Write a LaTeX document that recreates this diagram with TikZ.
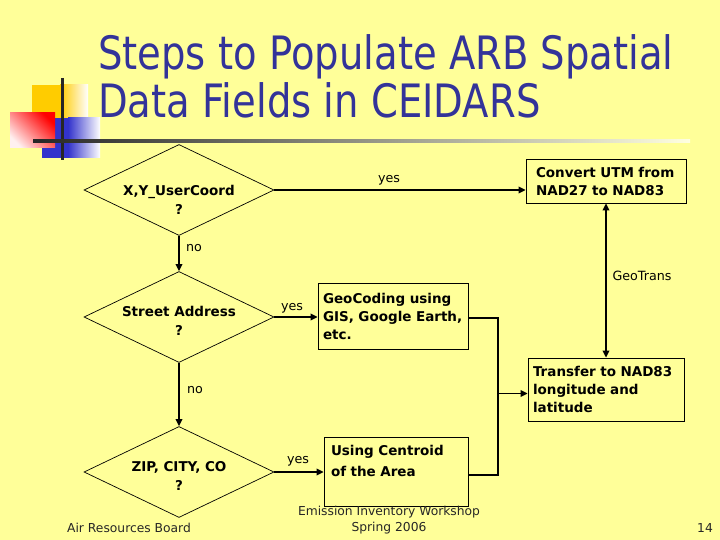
\documentclass[tikz,border=0pt]{standalone}
\usepackage{fontspec}
\setmainfont{DejaVu Sans}
\usetikzlibrary{shapes.geometric,arrows.meta}
\definecolor{bg}{HTML}{FFFF99}
\definecolor{titleblue}{HTML}{333399}
\definecolor{gold}{HTML}{FFCC00}
\definecolor{logoblue}{HTML}{3333CC}
\tikzset{
  dia/.style={diamond, draw, line width=0.7pt, minimum width=190pt, minimum height=91pt, inner sep=0pt, aspect=2.1},
  dtext/.style={font=\fontsize{13.5}{19}\selectfont\bfseries, align=center, inner sep=0pt},
  box/.style={draw, line width=0.7pt, rectangle, align=left, inner ysep=0pt, font=\fontsize{13.5}{18}\selectfont\bfseries},
  conn/.style={line width=1.8pt},
  arr/.style={conn, -{Triangle[length=7pt,width=6.5pt]}},
  lbl/.style={font=\fontsize{12.7}{15}\selectfont, inner sep=0pt},
  foot/.style={font=\fontsize{12.3}{15}\selectfont, text=black!85, inner sep=0pt},
  titletext/.style={font=\fontsize{46}{48}\selectfont, text=titleblue, inner sep=0pt, anchor=base west}
}
\begin{document}
\begin{tikzpicture}[x=1pt,y=-1pt]
\fill[bg] (0,0) rectangle (720,540);
\useasboundingbox (0,0) rectangle (720,540);

% logo
\fill[gold] (32,85) rectangle (60,125);
\shade[left color=gold, right color=white] (60,85) rectangle (88,125);
\fill[logoblue] (42,118) rectangle (68,158);
\shade[left color=logoblue, right color=white] (68,118) rectangle (100,158);
\shade[top color=red, bottom color=red!6!white, shading angle=-45] (10,113) rectangle (55,148);
\draw[line width=3pt, black!85] (62,78) -- (62,160);
\shade[left color=black!85, right color=bg!30!white] (33,139.5) rectangle (690,142.5);

% title
\node[titletext] (title1) at (98,70) {\scalebox{0.838}[1]{Steps to Populate ARB Spatial}};
\node[titletext] (title2) at (98,118) {\scalebox{0.838}[1]{Data Fields in CEIDARS}};

% diamonds
\node[dia] (d1) at (179,190) {};
\node[dtext] (t1) at (179,200) {X,Y\_UserCoord\\?};
\node[dia] (d2) at (179,317) {};
\node[dtext] (t2) at (179,321) {Street Address\\?};
\node[dia] (d3) at (179,472) {};
\node[dtext] (t3) at (179,476) {ZIP, CITY, CO\\?};

% boxes
\node[box, minimum width=160pt, minimum height=44pt, text width=140pt, inner xsep=10pt] (conv) at (606,181) {Convert UTM from\\NAD27 to NAD83};
\node[box, minimum width=150pt, minimum height=66pt, text width=140pt, inner xsep=5pt] (geo) at (393,316) {GeoCoding using\\GIS, Google Earth,\\etc.};
\node[box, minimum width=156pt, minimum height=63pt, text width=146pt, inner xsep=5pt] (trans) at (606,389.5) {Transfer to NAD83\\longitude and\\latitude};
\node[box, minimum width=144pt, minimum height=69pt, text width=130pt, inner xsep=7pt, font=\fontsize{13.5}{21}\selectfont\bfseries] (cent) at (396,471.5) {Using Centroid\\of the Area\\\mbox{}};

% connectors
\draw[arr] (d1.east) -- (d1.east -| conv.west);
\draw[arr] (d1.south) -- (d2.north);
\draw[arr] (d2.east) -- (d2.east -| geo.west);
\draw[arr] (d2.south) -- (d3.north);
\draw[arr] (d3.east) -- (d3.east -| cent.west);
\coordinate (jx) at (498,0);
\draw[conn] ([yshift=-2pt]geo.east) -- ([yshift=-2pt]geo.east -| jx) -- ([yshift=-3.5pt]cent.east -| jx) -- ([yshift=-3.5pt]cent.east);
\draw[arr] ([yshift=-4pt]jx |- trans.west) -- ([yshift=-4pt]trans.west);
\draw[conn, {Triangle[length=7pt,width=6.5pt]}-{Triangle[length=7pt,width=6.5pt]}] (conv.south) -- (trans.north);

% labels
\node[lbl] (y1) at (389,180) {yes};
\node[lbl] (n1) at (194,248) {no};
\node[lbl] (y2) at (292,308) {yes};
\node[lbl] (gt) at (642,276) {GeoTrans};
\node[lbl] (n2) at (195,390) {no};
\node[lbl] (y3) at (298,461) {yes};

% footer
\node[foot] (f1) at (129,528) {Air Resources Board};
\node[foot] (f2) at (389,512) {Emission Inventory Workshop};
\node[foot] (f3) at (389,528) {Spring 2006};
\node[foot] (f4) at (705,528) {14};
\end{tikzpicture}
\end{document}
